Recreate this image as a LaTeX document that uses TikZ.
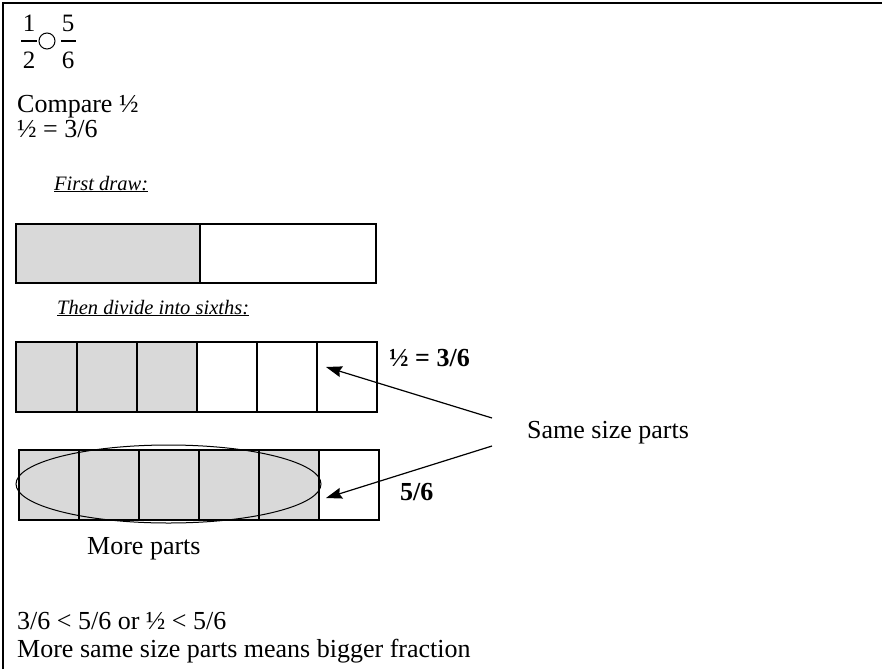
\documentclass[tikz,border=0pt]{standalone}
\usepackage{fontspec}
\setmainfont{Liberation Serif}
\usetikzlibrary{arrows.meta}
\begin{document}
\begin{tikzpicture}[x=1pt,y=-1pt,
  txt/.style={inner sep=0pt, anchor=base west, font=\fontsize{26}{31}\selectfont},
  lbl/.style={inner sep=0pt, anchor=base west, font=\fontsize{20.5}{24}\selectfont\itshape},
  bold/.style={inner sep=0pt, anchor=base west, font=\fontsize{26}{31}\selectfont\bfseries},
  digit/.style={inner sep=0pt, anchor=base, font=\fontsize{25}{30}\selectfont},
  cell/.style={line width=2pt},
  shade/.style={fill=gray!30},
  pointer/.style={line width=1.2pt, -{Stealth[length=16pt, width=11pt, inset=2pt]}}
]
\useasboundingbox (0,0) rectangle (882,669);
% frame
\draw[line width=2pt] (3,669) -- (3,3) -- (882,3);

% fraction comparison
\node[digit] (n1) at (29,32) {1};
\node[digit] (d2) at (29,68) {2};
\node[digit] (n5) at (68,32) {5};
\node[digit] (d6) at (68,68) {6};
\draw[line width=1.6pt] (21,41) -- (37,41);
\draw[line width=1.6pt] (61,41) -- (76,41);
\node[circle, draw, line width=1pt, minimum size=16pt, inner sep=0pt] (cmp) at (47,41) {};

\node[txt] (compare) at (17,112) {Compare ½};
\node[txt] (eq) at (17,137) {½ = 3/6};
\node[lbl] (first) at (54,190) {\underline{First draw:}};

% halves bar
\fill[shade] (16,224) rectangle (200,283);
\draw[cell] (16,224) rectangle (376,283);
\draw[cell] (200,224) -- (200,283);

\node[lbl] (then) at (57,314) {\underline{Then divide into sixths:}};

% sixths bar
\fill[shade] (16,342) rectangle (197,412);
\draw[cell] (16,342) rectangle (377,412);
\foreach \x in {77,137,197,257,317} \draw[cell] (\x,342) -- (\x,412);
\node[bold] (half) at (389,366) {½ = 3/6};

% five-sixths bar
\fill[shade] (19,450) rectangle (319,520);
\draw[cell] (19,450) rectangle (379,520);
\foreach \x in {79,139,199,259,319} \draw[cell] (\x,450) -- (\x,520);
\draw[line width=1pt] (168.5,484) ellipse [x radius=152.5, y radius=39];
\node[bold] (five) at (400,500) {5/6};

\node[txt] (more) at (87,554) {More parts};

% same size parts arrows
\node[txt] (same) at (527,438) {Same size parts};
\coordinate (s1) at (492,418);
\coordinate (s2) at (492,446);
\coordinate (t1) at (326,367);
\coordinate (t2) at (326,498);
\draw[pointer] (s1) -- (t1);
\draw[pointer] (s2) -- (t2);

\node[txt] (ineq) at (17,629) {3/6 < 5/6 or ½ < 5/6};
\node[txt] (concl) at (17,657) {More same size parts means bigger fraction};
\end{tikzpicture}
\end{document}
